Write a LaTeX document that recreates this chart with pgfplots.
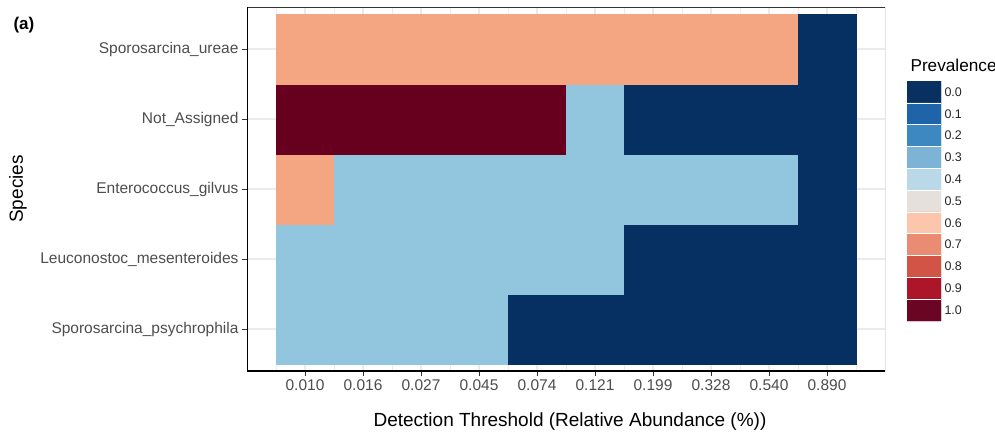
\documentclass[border=0pt]{standalone}
\usepackage{fontspec}
\setmainfont{Liberation Sans}
\usepackage{pgfplots}
\pgfplotsset{compat=1.18}
\usepackage{pgfplotstable}

\definecolor{ticktext}{HTML}{4D4D4D}
\definecolor{framegray}{HTML}{333333}
\definecolor{gridgray}{HTML}{EBEBEB}

% prevalence per species (y) and detection threshold index (x)
\pgfplotstableread{
x y p
1 1 0.333
2 1 0.333
3 1 0.333
4 1 0.333
5 1 0
6 1 0
7 1 0
8 1 0
9 1 0
10 1 0
1 2 0.333
2 2 0.333
3 2 0.333
4 2 0.333
5 2 0.333
6 2 0.333
7 2 0
8 2 0
9 2 0
10 2 0
1 3 0.667
2 3 0.333
3 3 0.333
4 3 0.333
5 3 0.333
6 3 0.333
7 3 0.333
8 3 0.333
9 3 0.333
10 3 0
1 4 1
2 4 1
3 4 1
4 4 1
5 4 1
6 4 0.333
7 4 0
8 4 0
9 4 0
10 4 0
1 5 0.667
2 5 0.667
3 5 0.667
4 5 0.667
5 5 0.667
6 5 0.667
7 5 0.667
8 5 0.667
9 5 0.667
10 5 0
}\prevtable

% colour key: steps 0.0 ... 1.0
\pgfplotstableread{
x y k
1 0 0
2 0 0
1 1 1
2 1 1
1 2 2
2 2 2
1 3 3
2 3 3
1 4 4
2 4 4
1 5 5
2 5 5
1 6 6
2 6 6
1 7 7
2 7 7
1 8 8
2 8 8
1 9 9
2 9 9
1 10 10
2 10 10
}\keytable

\newcommand{\ticksize}{\fontsize{15.5bp}{18bp}\selectfont}
\newcommand{\titlesize}{\fontsize{19bp}{22bp}\selectfont}

\begin{document}
\begin{tikzpicture}
\path[use as bounding box] (0,0) rectangle (995bp,-434bp);

\begin{axis}[
  at={(247bp,-371bp)}, anchor=south west,
  width=638bp, height=364bp, scale only axis,
  xmin=0, xmax=11, ymin=0.4, ymax=5.6,
  xtick={1,...,10},
  xticklabels={0.010,0.016,0.027,0.045,0.074,0.121,0.199,0.328,0.540,0.890},
  minor xtick={0.5,1.5,...,10.5},
  ytick={1,...,5},
  yticklabels={Sporosarcina\_psychrophila,Leuconostoc\_mesenteroides,Enterococcus\_gilvus,Not\_Assigned,Sporosarcina\_ureae},
  xtick pos=bottom, ytick pos=left,
  tick align=outside,
  major tick length=5bp, minor tick length=0pt,
  tick style={framegray, line width=0.9bp},
  grid=both,
  major grid style={gridgray, line width=1.1bp},
  minor grid style={gridgray, line width=0.6bp},
  axis line style={draw=none},
  tick label style={font=\ticksize, text=ticktext},
  colormap={tiles}{rgb255=(5,48,97) rgb255=(146,197,222) rgb255=(244,165,130) rgb255=(103,0,31)},
  colormap access=direct,
]
\addplot[matrix plot*, mesh/cols=10, point meta={round(3*\thisrow{p})}]
  table[x=x, y=y] {\prevtable};
% panel border, with darker axis lines on the left and bottom
\draw[framegray, line width=0.7bp] (rel axis cs:0,0) rectangle (rel axis cs:1,1);
\draw[black, line width=1.2bp] (rel axis cs:0,1) -- (rel axis cs:0,0) -- (rel axis cs:1,0);
\end{axis}

\begin{axis}[
  at={(907bp,-81bp)}, anchor=north west,
  width=34bp, height=240bp, scale only axis,
  xmin=0.5, xmax=2.5, ymin=-0.5, ymax=10.5,
  y dir=reverse,
  axis line style={draw=none},
  xtick=\empty,
  ytick={0,...,10},
  yticklabels={0.0,0.1,0.2,0.3,0.4,0.5,0.6,0.7,0.8,0.9,1.0},
  yticklabel pos=right,
  major tick length=0pt,
  yticklabel style={font=\fontsize{12.5bp}{14bp}\selectfont, text=black!85},
  colormap={key}{rgb255=(8,48,96) rgb255=(31,99,168) rgb255=(61,136,192) rgb255=(125,180,214) rgb255=(185,216,232) rgb255=(229,224,220) rgb255=(251,198,172) rgb255=(233,140,114) rgb255=(210,84,70) rgb255=(173,21,41) rgb255=(106,6,36)},
  colormap access=direct,
]
\addplot[matrix plot*, mesh/cols=2, point meta=explicit]
  table[x=x, y=y, meta=k] {\keytable};
% thin separators between the key steps
\pgfplotsinvokeforeach{0,...,9}{
  \draw[white, line width=0.6bp] (axis cs:0.5,#1+0.5) -- (axis cs:2.5,#1+0.5);
}
\end{axis}

\node[anchor=base west, font=\fontsize{17.2bp}{20bp}\selectfont] at (907bp,-71bp) {Prevalence};
\node[anchor=base, font=\titlesize] at (570bp,-426bp) {Detection Threshold (Relative Abundance (\%))};
\node[rotate=90, font=\titlesize] at (18bp,-189bp) {Species};
\node[anchor=base west, font=\fontsize{17bp}{20bp}\selectfont\bfseries] at (10bp,-29bp) {(a)};
\end{tikzpicture}
\end{document}
